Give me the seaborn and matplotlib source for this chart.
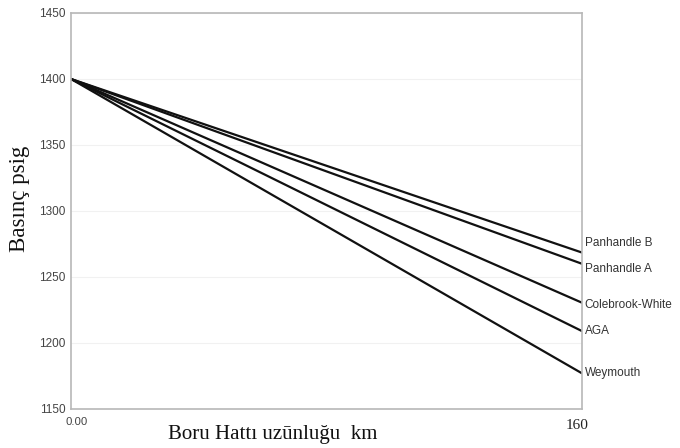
import matplotlib
matplotlib.use("Agg")
import matplotlib.pyplot as plt
import seaborn as sns
import pandas as pd

# Pressure along the pipeline for each flow equation
distance_km = [0, 160]
methods = ["Panhandle B", "Panhandle A", "Colebrook-White", "AGA", "Weymouth"]
pressure_start = [1400, 1400, 1400, 1400, 1400]
pressure_end = [1268.5, 1260, 1230.5, 1209, 1177]
label_offsets = [7, -4, -2, 0, 0]  # vertical nudge (data units) for end labels

rows = []
for m, p0, p1 in zip(methods, pressure_start, pressure_end):
    rows.append({"km": distance_km[0], "psig": p0, "method": m})
    rows.append({"km": distance_km[1], "psig": p1, "method": m})
df = pd.DataFrame(rows)

sns.set_style("white")
plt.rcParams["font.family"] = ["Liberation Sans", "DejaVu Sans"]

fig = plt.figure(figsize=(6.8, 4.48), dpi=100)
ax = fig.add_axes([0.1044, 0.0871, 0.7515, 0.8839])

sns.lineplot(data=df, x="km", y="psig", hue="method", hue_order=methods,
             palette=["#111111"] * len(methods), linewidth=1.6,
             legend=False, ax=ax)

ax.set_xlim(0, 160)
ax.set_ylim(1150, 1450)
ax.set_yticks([1150, 1200, 1250, 1300, 1350, 1400, 1450])
ax.set_xticks([])
ax.grid(axis="y", color="#f1f1f1", linewidth=0.8)
ax.set_axisbelow(True)
for s in ax.spines.values():
    s.set_color("#b8b8b8")
    s.set_linewidth(1.2)
ax.tick_params(axis="y", length=3, color="#b8b8b8", labelsize=8.5,
               labelcolor="#444444", pad=1)
ax.set_xlabel("")
ax.set_ylabel("")

# end-of-line labels
for m, p1, off in zip(methods, pressure_end, label_offsets):
    ax.text(160.8, p1 + off, m, ha="left", va="center", fontsize=8.5,
            color="#333333", clip_on=False)

# axis end labels and titles
serif = ["Liberation Serif", "DejaVu Serif"]
fig.text(0.0956, 0.058, "0.00", ha="left", va="center", fontsize=8.2,
         color="#444444")
fig.text(0.849, 0.050, "160", ha="center", va="center", fontsize=11,
         color="#222222", family=serif)
fig.text(0.247, 0.030, "Boru Hattı uzūnluğu  km", ha="left", va="center",
         fontsize=15, color="#111111", family=serif)
fig.text(0.029, 0.556, "Basınç psig", ha="center", va="center", rotation=90,
         fontsize=16.5, color="#111111", family=serif)

fig.savefig("out.png", dpi=100)
